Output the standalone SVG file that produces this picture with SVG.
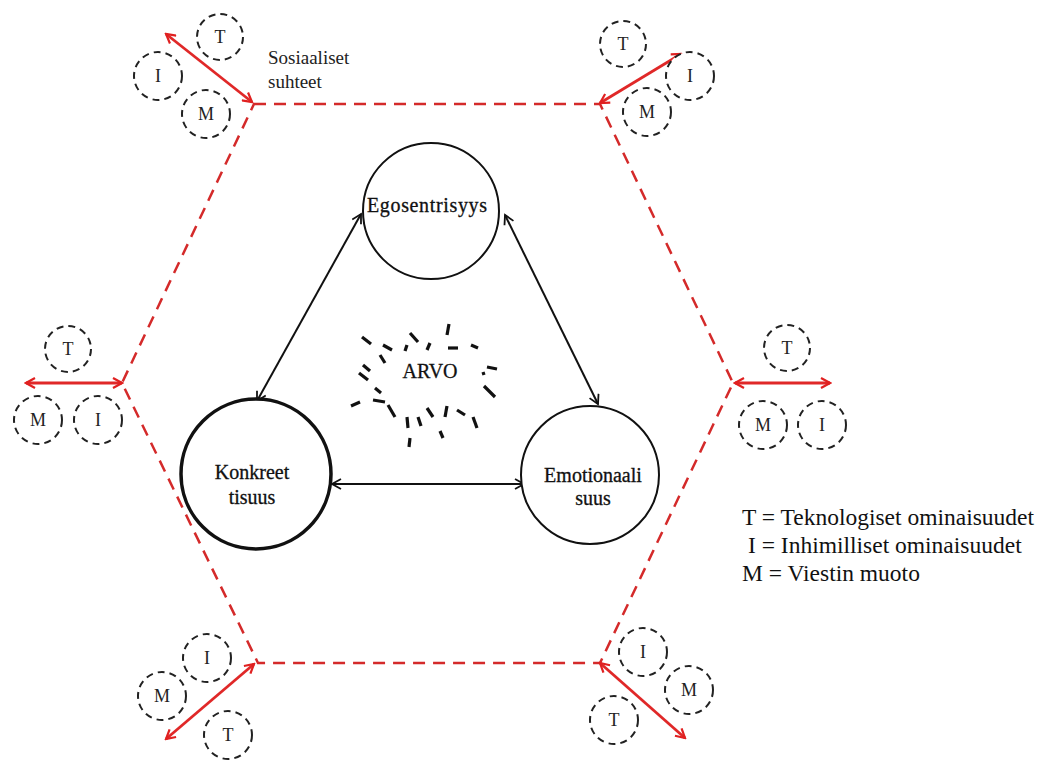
<svg xmlns="http://www.w3.org/2000/svg" width="1053" height="760" viewBox="0 0 1053 760">
  <defs>
    <marker id="redHead" viewBox="0 0 12 12" refX="10" refY="6" markerWidth="12" markerHeight="12" markerUnits="userSpaceOnUse" orient="auto-start-reverse">
      <path d="M1,1 L10,6 L1,11" fill="none" stroke="#e02020" stroke-width="2.2"/>
    </marker>
    <marker id="blackHead" viewBox="0 0 12 12" refX="10" refY="6" markerWidth="12" markerHeight="12" markerUnits="userSpaceOnUse" orient="auto-start-reverse">
      <path d="M1,1 L10,6 L1,11" fill="none" stroke="#111" stroke-width="1.8"/>
    </marker>
  </defs>
  <style>
    .hex { fill: none; stroke: #d42a2a; stroke-width: 2.5; stroke-dasharray: 12 8; }
    .red { stroke: #e02828; stroke-width: 2.8; marker-start: url(#redHead); marker-end: url(#redHead); }
    .blk { stroke: #111; stroke-width: 2; marker-start: url(#blackHead); marker-end: url(#blackHead); }
    .dc { fill: #fff; stroke: #222; stroke-width: 2; stroke-dasharray: 7 5; }
    .node { fill: #fff; stroke: #111; stroke-width: 2; }
    .thick { stroke-width: 3.5; }
    text { font-family: "Liberation Serif", "DejaVu Serif", "Times New Roman", serif; fill: #1a1a1a; }
    .lbl { font-size: 20px; text-anchor: middle; fill: #111; stroke: #111; stroke-width: 0.3; }
    .sm { font-size: 18px; fill: #222; text-anchor: middle; }
    .cap { font-size: 19px; fill: #222; text-anchor: start; }
    .legend { font-size: 23.5px; fill: #111; }
    .burst line { stroke: #111; stroke-width: 3.2; stroke-linecap: butt; }
  </style>
  <rect width="1053" height="760" fill="#fff"/>

  <!-- dashed hexagon -->
  <polygon id="hexagon" class="hex" points="254,104 600,104 733,383 600,663 258,663 122,383"/>

  <!-- connectors -->
  <g id="connectors">
    <line class="red" x1="166" y1="34" x2="252" y2="102"/>
    <line class="red" x1="681" y1="54" x2="600" y2="103"/>
    <line class="red" x1="26" y1="383" x2="122" y2="383"/>
    <line class="red" x1="735" y1="383" x2="830" y2="383"/>
    <line class="red" x1="254" y1="664" x2="166" y2="739"/>
    <line class="red" x1="600" y1="663" x2="685" y2="738"/>
    <line class="blk" x1="361" y1="214" x2="257" y2="401"/>
    <line class="blk" x1="505" y1="215" x2="598" y2="404"/>
    <line class="blk" x1="332" y1="484" x2="524" y2="484"/>
  </g>

  <!-- top-left cluster -->
  <g id="cluster-top-left">
    <circle class="dc" cx="220" cy="37" r="23"/><text class="sm" x="220" y="43">T</text>
    <circle class="dc" cx="158" cy="76" r="24"/><text class="sm" x="158" y="82">I</text>
    <circle class="dc" cx="206" cy="114" r="24"/><text class="sm" x="206" y="120">M</text>
    <text class="cap" x="268" y="64">Sosiaaliset</text>
    <text class="cap" x="268" y="88">suhteet</text>
  </g>

  <!-- top-right cluster -->
  <g id="cluster-top-right">
    <circle class="dc" cx="623" cy="44" r="23"/><text class="sm" x="623" y="50">T</text>
    <circle class="dc" cx="690" cy="76" r="24"/><text class="sm" x="690" y="82">I</text>
    <circle class="dc" cx="647" cy="112" r="24"/><text class="sm" x="647" y="118">M</text>
  </g>

  <!-- left cluster -->
  <g id="cluster-left">
    <circle class="dc" cx="68" cy="349" r="23"/><text class="sm" x="68" y="355">T</text>
    <circle class="dc" cx="38" cy="420" r="24"/><text class="sm" x="38" y="426">M</text>
    <circle class="dc" cx="98" cy="420" r="24"/><text class="sm" x="98" y="426">I</text>
  </g>

  <!-- right cluster -->
  <g id="cluster-right">
    <circle class="dc" cx="787" cy="348" r="23"/><text class="sm" x="787" y="354">T</text>
    <circle class="dc" cx="763" cy="425" r="24"/><text class="sm" x="763" y="431">M</text>
    <circle class="dc" cx="822" cy="425" r="24"/><text class="sm" x="822" y="431">I</text>
  </g>

  <!-- bottom-left cluster -->
  <g id="cluster-bottom-left">
    <circle class="dc" cx="207" cy="658" r="24"/><text class="sm" x="207" y="664">I</text>
    <circle class="dc" cx="162" cy="696" r="24"/><text class="sm" x="162" y="702">M</text>
    <circle class="dc" cx="228" cy="735" r="24"/><text class="sm" x="228" y="741">T</text>
  </g>

  <!-- bottom-right cluster -->
  <g id="cluster-bottom-right">
    <circle class="dc" cx="643" cy="652" r="24"/><text class="sm" x="643" y="658">I</text>
    <circle class="dc" cx="689" cy="690" r="24"/><text class="sm" x="689" y="696">M</text>
    <circle class="dc" cx="614" cy="720" r="24"/><text class="sm" x="614" y="726">T</text>
  </g>

  <!-- value burst -->
  <g id="arvo">
    <g class="burst">
      <line x1="362" y1="337" x2="371" y2="344"/>
      <line x1="383" y1="345" x2="392" y2="350"/>
      <line x1="410" y1="333" x2="418" y2="342"/>
      <line x1="407" y1="345" x2="405" y2="351"/>
      <line x1="430" y1="343" x2="427" y2="350"/>
      <line x1="449" y1="324" x2="447" y2="335"/>
      <line x1="448" y1="348" x2="458" y2="348"/>
      <line x1="471" y1="345" x2="478" y2="348"/>
      <line x1="380" y1="355" x2="385" y2="363"/>
      <line x1="363" y1="365" x2="370" y2="371"/>
      <line x1="359" y1="373" x2="368" y2="380"/>
      <line x1="487" y1="367" x2="497" y2="369"/>
      <line x1="483" y1="372" x2="484" y2="375"/>
      <line x1="484" y1="386" x2="495" y2="397"/>
      <line x1="375" y1="388" x2="381" y2="393"/>
      <line x1="351" y1="406" x2="360" y2="402"/>
      <line x1="373" y1="400" x2="385" y2="402"/>
      <line x1="388" y1="405" x2="395" y2="417"/>
      <line x1="407" y1="417" x2="408" y2="428"/>
      <line x1="418" y1="417" x2="421" y2="426"/>
      <line x1="427" y1="408" x2="433" y2="417"/>
      <line x1="447" y1="406" x2="445" y2="417"/>
      <line x1="457" y1="410" x2="465" y2="415"/>
      <line x1="473" y1="417" x2="477" y2="428"/>
      <line x1="440" y1="431" x2="443" y2="438"/>
      <line x1="410" y1="438" x2="409" y2="447"/>
    </g>
    <text class="lbl" x="430" y="378" font-size="19">ARVO</text>
  </g>

  <!-- nodes -->
  <g id="node-ego">
    <circle class="node" cx="431" cy="211" r="68"/>
    <text class="lbl" x="427" y="212" textLength="120" lengthAdjust="spacing">Egosentrisyys</text>
  </g>
  <g id="node-konkreettisuus">
    <circle class="node thick" cx="256" cy="474" r="75"/>
    <text class="lbl" x="252" y="479" stroke-width="0">Konkreet</text>
    <text class="lbl" x="252" y="504" stroke-width="0">tisuus</text>
  </g>
  <g id="node-emotionaalisuus">
    <circle class="node" cx="590" cy="475" r="69"/>
    <text class="lbl" x="593" y="482">Emotionaali</text>
    <text class="lbl" x="593" y="505">suus</text>
  </g>

  <!-- legend -->
  <g id="legend">
    <text class="legend" x="742" y="525">T = Teknologiset ominaisuudet</text>
    <text class="legend" x="748" y="553">I = Inhimilliset ominaisuudet</text>
    <text class="legend" x="742" y="581">M = Viestin muoto</text>
  </g>
</svg>
